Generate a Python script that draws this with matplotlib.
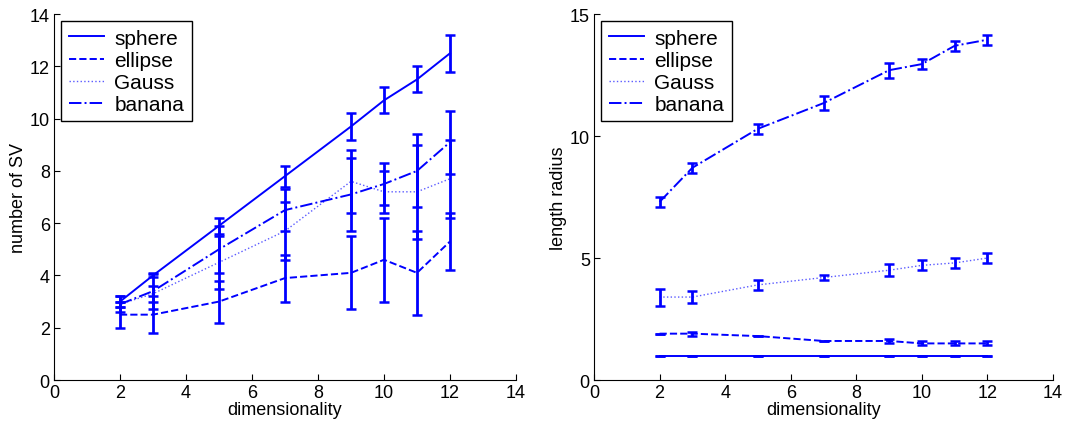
import numpy as np
import matplotlib
matplotlib.use("Agg")
import matplotlib.pyplot as plt

plt.rcParams['font.family'] = ['Liberation Sans', 'DejaVu Sans']
plt.rcParams['font.size'] = 13

dims = [2, 3, 5, 7, 9, 10, 11, 12]
names = ["sphere", "ellipse", "Gauss", "banana"]
styles = ["-", "--", ":", "-."]

# number of support vectors (mean, std)
sv_mean = {
    "sphere":  [3.0, 4.0, 5.9, 7.8, 9.7, 10.7, 11.5, 12.5],
    "ellipse": [2.5, 2.5, 3.0, 3.9, 4.1, 4.6, 4.1, 5.3],
    "Gauss":   [2.9, 3.3, 4.5, 5.7, 7.6, 7.2, 7.2, 7.7],
    "banana":  [2.9, 3.4, 5.0, 6.5, 7.1, 7.5, 8.0, 9.1],
}
sv_std = {
    "sphere":  [0.2, 0.05, 0.3, 0.4, 0.5, 0.5, 0.5, 0.7],
    "ellipse": [0.5, 0.7, 0.8, 0.9, 1.4, 1.6, 1.6, 1.1],
    "Gauss":   [0.1, 0.3, 1.0, 1.1, 1.2, 0.8, 1.8, 1.5],
    "banana":  [0.3, 0.7, 0.9, 0.8, 1.4, 0.8, 1.4, 1.2],
}

# length of radius (mean, std)
r_mean = {
    "sphere":  [1.0, 1.0, 1.0, 1.0, 1.0, 1.0, 1.0, 1.0],
    "ellipse": [1.9, 1.9, 1.8, 1.6, 1.6, 1.5, 1.5, 1.5],
    "Gauss":   [3.4, 3.4, 3.9, 4.2, 4.5, 4.7, 4.8, 5.0],
    "banana":  [7.3, 8.7, 10.3, 11.35, 12.7, 12.95, 13.7, 13.95],
}
r_std = {
    "sphere":  [0.0, 0.0, 0.0, 0.0, 0.0, 0.0, 0.0, 0.0],
    "ellipse": [0.0, 0.08, 0.0, 0.0, 0.08, 0.08, 0.08, 0.08],
    "Gauss":   [0.35, 0.25, 0.2, 0.1, 0.25, 0.2, 0.2, 0.2],
    "banana":  [0.2, 0.2, 0.2, 0.3, 0.3, 0.2, 0.2, 0.2],
}

blue = "#0000ff"


def draw(ax, means, stds, ylim, yticks, ylabel):
    for name, ls in zip(names, styles):
        lw = 1.0 if ls == ":" else 1.4
        col = "#5a5aff" if ls == ":" else blue
        ax.plot(dims, means[name], linestyle=ls, color=col, lw=lw, label=name)
        ax.errorbar(dims, means[name], yerr=stds[name], fmt="none",
                    ecolor=blue, elinewidth=2.0, capsize=3.5, capthick=1.8)
    ax.set_xlim(0, 14)
    ax.set_xticks(range(0, 15, 2))
    ax.set_ylim(*ylim)
    ax.set_yticks(yticks)
    ax.set_xlabel("dimensionality", labelpad=0)
    ax.set_ylabel(ylabel, labelpad=2)
    ax.spines["top"].set_visible(False)
    ax.spines["right"].set_visible(False)
    ax.tick_params(direction="in", length=4, pad=3)
    leg = ax.legend(loc="upper left", fancybox=False, edgecolor="black",
                    framealpha=1, borderaxespad=0.35, handlelength=1.7,
                    handletextpad=0.5, labelspacing=0.15, borderpad=0.35,
                    fontsize=15)
    leg.get_frame().set_linewidth(1.0)


fig = plt.figure(figsize=(10.73, 4.31), dpi=100)
ax1 = fig.add_axes([0.0503, 0.116, 0.4306, 0.849])
ax2 = fig.add_axes([0.5536, 0.116, 0.4278, 0.849])

draw(ax1, sv_mean, sv_std, (0, 14), range(0, 15, 2), "number of SV")
draw(ax2, r_mean, r_std, (0, 15), [0, 5, 10, 15], "length radius")

fig.savefig("out.png", dpi=100)
